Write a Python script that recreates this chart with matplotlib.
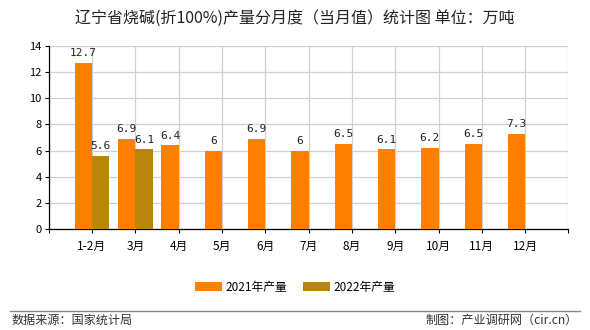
import matplotlib
matplotlib.use("Agg")
import matplotlib.pyplot as plt
import matplotlib.lines as mlines
import numpy as np

plt.rcParams['font.family'] = ['Noto Sans CJK SC', 'DejaVu Sans']

# data
months = ['1-2月', '3月', '4月', '5月', '6月', '7月', '8月', '9月', '10月', '11月', '12月']
prod_2021 = [12.7, 6.9, 6.4, 6, 6.9, 6, 6.5, 6.1, 6.2, 6.5, 7.3]
prod_2022 = [5.6, 6.1]
yticks = [0, 2, 4, 6, 8, 10, 12, 14]

c2021 = '#FF8000'
c2022 = '#B8860B'

fig = plt.figure(figsize=(5.9, 3.3), dpi=100)
ax = fig.add_axes([0.0825, 0.306, 0.881, 0.555])

x = np.arange(1, len(months) + 1)
w = 0.4
b1 = ax.bar(x - w / 2, prod_2021, w, color=c2021, label='2021年产量', zorder=3)
x2 = x[:len(prod_2022)]
b2 = ax.bar(x2 + w / 2, prod_2022, w, color=c2022, label='2022年产量', zorder=3)

for bars, vals in ((b1, prod_2021), (b2, prod_2022)):
    for r, v in zip(bars, vals):
        ax.text(r.get_x() + r.get_width() / 2, v + 0.35, ('%g' % v),
                ha='center', va='bottom', fontsize=8, family='DejaVu Sans Mono',
                color='#222222', zorder=4)

ax.set_xlim(0, 12)
ax.set_ylim(0, 14)
ax.set_yticks(yticks)
ax.set_xticks(list(range(0, 13)))
ax.set_xticklabels([''] + months + [''])
ax.tick_params(axis='both', labelsize=8, length=3, color='black', pad=2)
ax.tick_params(axis='x', labelsize=8.5, pad=5)
ax.grid(True, color='#d0d0d0', linewidth=0.9, zorder=0)
for s in ('top', 'right'):
    ax.spines[s].set_visible(False)
ax.spines['left'].set_linewidth(0.9)
ax.spines['bottom'].set_linewidth(0.9)

fig.text(0.5, 0.945, '辽宁省烧碱(折100%)产量分月度（当月值）统计图 单位：万吨',
         ha='center', va='center', fontsize=11.5, color='#222222')

fig.legend(handles=[b1, b2], loc='center', bbox_to_anchor=(0.5, 0.13), ncol=2,
           frameon=False, fontsize=8.5, handlelength=2.3, handleheight=0.9,
           columnspacing=1.3, handletextpad=0.3)

fig.add_artist(mlines.Line2D([0.017, 0.983], [0.058, 0.058], color='#888888',
                             linewidth=1, transform=fig.transFigure))
fig.text(0.02, 0.028, '数据来源：国家统计局', ha='left', va='center', fontsize=8.7, color='#333333')
fig.text(0.98, 0.028, '制图：产业调研网（cir.cn）', ha='right', va='center', fontsize=8.7, color='#333333')

fig.savefig('out.png', dpi=100)
